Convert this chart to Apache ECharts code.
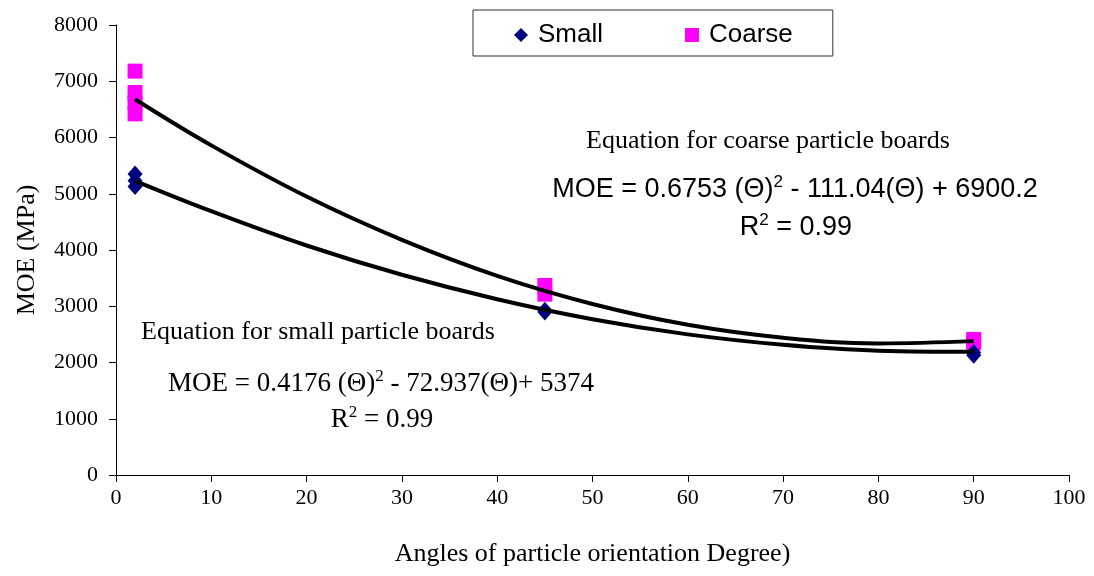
<!DOCTYPE html>
<html>
<head>
<meta charset="utf-8">
<script src="https://cdn.jsdelivr.net/npm/echarts@6/dist/echarts.min.js"></script>
<style>
html,body{margin:0;padding:0;background:#fff;}
#chart{width:1094px;height:576px;}
</style>
</head>
<body>
<div id="chart"></div>
<script>
// Measured points (angle in degrees, MOE in MPa)
const smallPoints = [[2, 5350], [2, 5230], [2, 5130], [45, 2930], [45, 2900], [90, 2180], [90, 2130]];
const coarsePoints = [[2, 7180], [2, 6800], [2, 6620], [2, 6420], [45, 3370], [45, 3215], [90, 2410], [90, 2350]];
// Trend curves
const trendAngles = [2, 10, 20, 30, 40, 50, 60, 70, 80, 90];
const coarseTrend = [6680, 5860, 4950, 4180, 3540, 3040, 2670, 2440, 2340, 2380];
const smallTrend = [5230, 4690, 4080, 3560, 3125, 2770, 2500, 2315, 2210, 2190];
const xTicks = [0, 10, 20, 30, 40, 50, 60, 70, 80, 90, 100];
const yTicks = [0, 1000, 2000, 3000, 4000, 5000, 6000, 7000, 8000];

const serif = '"Liberation Serif", "Times New Roman", serif';
const sans = '"Liberation Sans", Arial, sans-serif';

const chart = echarts.init(document.getElementById('chart'));
const pair = (xs, ys) => xs.map((x, i) => [x, ys[i]]);

chart.setOption({
  animation: false,
  backgroundColor: '#ffffff',
  grid: { left: 116, right: 25, top: 25, bottom: 101, containLabel: false },
  xAxis: {
    type: 'value', min: xTicks[0], max: xTicks[xTicks.length - 1], interval: 10,
    name: 'Angles of particle orientation Degree)', nameLocation: 'middle', nameGap: 66,
    nameTextStyle: { fontFamily: serif, fontSize: 26, color: '#000' },
    axisLine: { show: true, onZero: false, lineStyle: { color: '#000', width: 1 } },
    axisTick: { show: true, length: 7, lineStyle: { color: '#000' } },
    axisLabel: { fontFamily: serif, fontSize: 22, color: '#000', margin: 12, formatter: v => String(v) },
    splitLine: { show: false }
  },
  yAxis: {
    type: 'value', min: yTicks[0], max: yTicks[yTicks.length - 1], interval: 1000,
    name: 'MOE (MPa)', nameLocation: 'middle', nameGap: 76, nameRotate: 90,
    nameTextStyle: { fontFamily: serif, fontSize: 26, color: '#000' },
    axisLine: { show: true, lineStyle: { color: '#000', width: 1 } },
    axisTick: { show: true, length: 7, lineStyle: { color: '#000' } },
    axisLabel: { fontFamily: serif, fontSize: 22, color: '#000', margin: 18, formatter: v => String(v) },
    splitLine: { show: false }
  },
  legend: {
    data: [
      { name: 'Small', icon: 'diamond' },
      { name: 'Coarse', icon: 'rect' }
    ],
    left: 473, top: 10,
    padding: [12, 40, 8, 41],
    itemWidth: 14, itemHeight: 14, itemGap: 82,
    borderColor: '#333', borderWidth: 1,
    textStyle: { fontFamily: sans, fontSize: 26, color: '#000', padding: [0, 0, 0, 5] }
  },
  series: [
    {
      name: 'Coarse', type: 'scatter', data: coarsePoints,
      symbol: 'rect', symbolSize: 15,
      itemStyle: { color: '#ff00ff', opacity: 1 }, z: 2
    },
    {
      name: 'Small', type: 'scatter', data: smallPoints,
      symbol: 'diamond', symbolSize: [15, 17],
      itemStyle: { color: '#000080', opacity: 1 }, z: 3
    },
    {
      name: 'Coarse trend', type: 'line', data: pair(trendAngles, coarseTrend),
      smooth: 0.4, showSymbol: false, symbol: 'none',
      lineStyle: { color: '#000', width: 4 }, z: 4
    },
    {
      name: 'Small trend', type: 'line', data: pair(trendAngles, smallTrend),
      smooth: 0.4, showSymbol: false, symbol: 'none',
      lineStyle: { color: '#000', width: 4 }, z: 4
    }
  ],
  graphic: [
    {
      type: 'text', x: 586, y: 141,
      style: { text: 'Equation for coarse particle boards', fill: '#000', font: '26px ' + serif, align: 'left', verticalAlign: 'middle' }
    },
    {
      type: 'text', x: 795, y: 190,
      style: {
        text: '{a|MOE = 0.6753 (Θ)}{s|2}{a| - 111.04(Θ) + 6900.2}',
        align: 'center', verticalAlign: 'middle',
        rich: {
          a: { fontFamily: sans, fontSize: 27, fill: '#000', color: '#000' },
          s: { fontFamily: sans, fontSize: 17, fill: '#000', color: '#000', padding: [0, 0, 15, 0] }
        }
      }
    },
    {
      type: 'text', x: 796, y: 228,
      style: {
        text: '{a|R}{s|2}{a| = 0.99}',
        align: 'center', verticalAlign: 'middle',
        rich: {
          a: { fontFamily: sans, fontSize: 27, fill: '#000', color: '#000' },
          s: { fontFamily: sans, fontSize: 17, fill: '#000', color: '#000', padding: [0, 0, 15, 0] }
        }
      }
    },
    {
      type: 'text', x: 141, y: 332,
      style: { text: 'Equation for small particle boards', fill: '#000', font: '26px ' + serif, align: 'left', verticalAlign: 'middle' }
    },
    {
      type: 'text', x: 381, y: 384,
      style: {
        text: '{a|MOE = 0.4176 (Θ)}{s|2}{a| - 72.937(Θ)+ 5374}',
        align: 'center', verticalAlign: 'middle',
        rich: {
          a: { fontFamily: serif, fontSize: 27, fill: '#000', color: '#000' },
          s: { fontFamily: serif, fontSize: 17, fill: '#000', color: '#000', padding: [0, 0, 15, 0] }
        }
      }
    },
    {
      type: 'text', x: 382, y: 420,
      style: {
        text: '{a|R}{s|2}{a| = 0.99}',
        align: 'center', verticalAlign: 'middle',
        rich: {
          a: { fontFamily: serif, fontSize: 27, fill: '#000', color: '#000' },
          s: { fontFamily: serif, fontSize: 17, fill: '#000', color: '#000', padding: [0, 0, 15, 0] }
        }
      }
    }
  ]
});
</script>
</body>
</html>
